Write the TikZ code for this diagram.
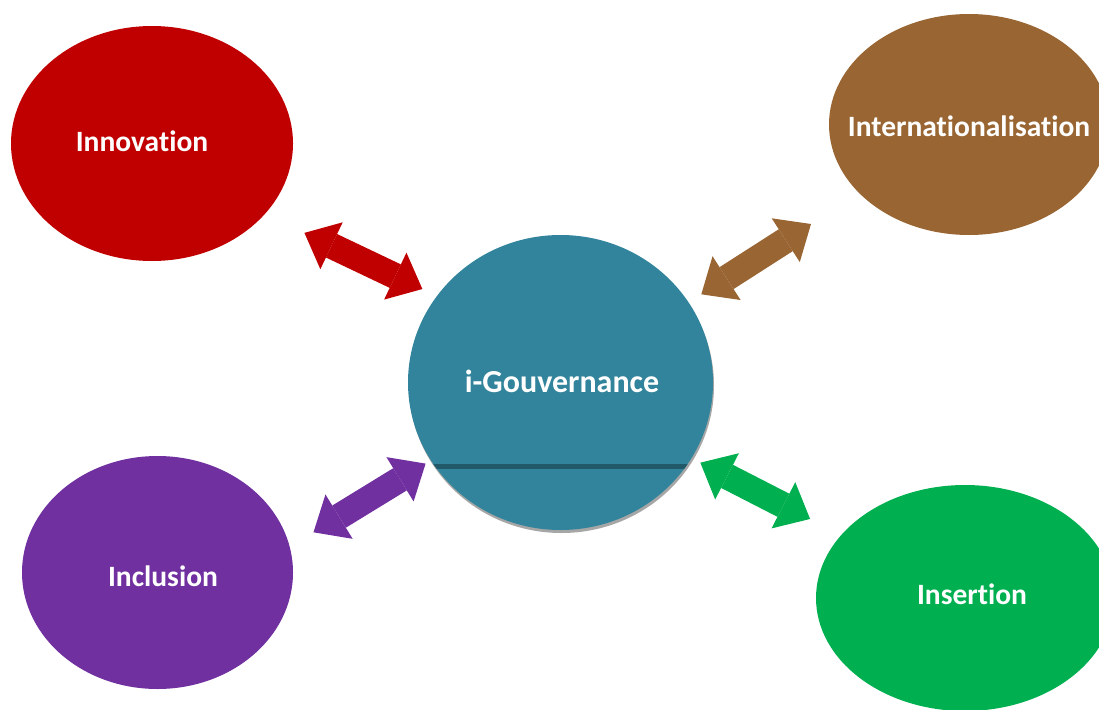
\documentclass[tikz,border=0pt]{standalone}
\usepackage{fontspec}
\setmainfont{Carlito}[Ligatures=NoCommon]
\usetikzlibrary{arrows.meta,shapes.geometric,shadows}

\definecolor{innored}{HTML}{C00000}
\definecolor{intlbrown}{HTML}{996633}
\definecolor{gouvteal}{HTML}{31849B}
\definecolor{gouvline}{HTML}{215968}
\definecolor{inclpurple}{HTML}{7030A0}
\definecolor{insgreen}{HTML}{00B050}

\begin{document}
\begin{tikzpicture}[x=1pt,y=-1pt,
   blob/.style={ellipse,fill=#1,inner sep=0pt},
   lbl/.style={anchor=base,text=white,font=\fontsize{29.5}{35}\selectfont\bfseries},
   dblarr/.style={draw=#1,line width=26pt,
      {Triangle[length=30pt,width=52pt,line width=0pt]}-{Triangle[length=30pt,width=52pt,line width=0pt]}}]
   \useasboundingbox (0,0) rectangle (1099,709);
   \clip (0,0) rectangle (1099,709);
   % the four ellipses and the centre
   \node[blob=innored,minimum width=282pt,minimum height=235pt] (inno) at (152,143.5) {};
   \node[blob=intlbrown,minimum width=280pt,minimum height=221pt] (intl) at (969,124.5) {};
   \node[blob=inclpurple,minimum width=271pt,minimum height=233pt] (incl) at (157.5,572.5) {};
   \node[blob=insgreen,minimum width=298pt,minimum height=226pt] (ins) at (965,598) {};
   \node[blob=gouvteal,minimum width=305pt,minimum height=295pt,
      drop shadow={shadow xshift=1pt,shadow yshift=-3pt,fill=black!35,opacity=1},
      path picture={\fill[gouvline] ([yshift=61.5pt]path picture bounding box.south west)
         rectangle ([yshift=66.5pt]path picture bounding box.south east);}] (gouv) at (560.5,382.5) {};
   % texts
   \node[lbl] (tinno) at (142,151.7) {Innovation};
   \node[lbl] (tintl) at (969,136.7) {Internationalisation};
   \node[lbl,font=\fontsize{32}{38}\selectfont\bfseries] (tgouv) at (562,392.7) {i-Gouvernance};
   \node[lbl] (tincl) at (163,586.7) {Inclusion};
   \node[lbl] (tins) at (972,604.3) {Insertion};
   % double arrows
   \draw[dblarr=innored,shorten <=43.7pt,shorten >=16pt] (inno.-32.6) -- (gouv.145.5);
   \draw[dblarr=intlbrown,shorten <=14.9pt,shorten >=57.1pt] (gouv.32.1) -- (intl.212.45);
   \draw[dblarr=inclpurple,shorten <=27.7pt,shorten >=6.1pt] (incl.11.75) -- (gouv.211.25);
   \draw[dblarr=insgreen,shorten <=9.8pt,shorten >=34.9pt] (gouv.-30.06) -- (ins.153.7);
\end{tikzpicture}
\end{document}
